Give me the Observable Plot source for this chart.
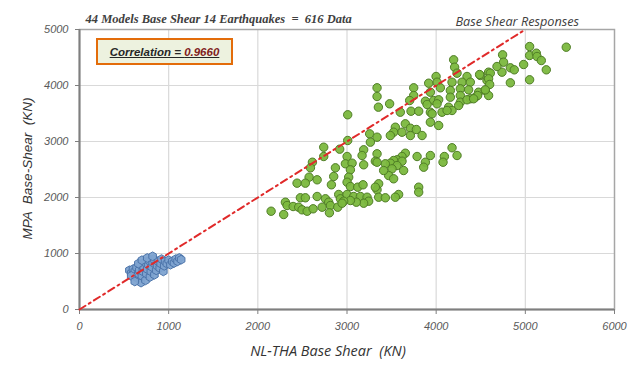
<!DOCTYPE html>
<html>
<head>
<meta charset="utf-8">
<script src="https://cdn.jsdelivr.net/npm/d3@7"></script>
<script src="https://cdn.jsdelivr.net/npm/@observablehq/plot@0.6"></script>
<style>
  html, body { margin: 0; padding: 0; background: #fff; }
  #wrap { position: relative; width: 629px; height: 370px; overflow: hidden; }
  #corr {
    position: absolute; left: 96px; top: 38px; width: 137px; height: 27px;
    box-sizing: border-box; border: 2px solid #e36c0a; background: #edf2df;
    font: italic bold 11.5px "Liberation Sans", Arial, sans-serif;
    text-decoration: underline; color: #262626;
    display: flex; align-items: center; justify-content: center;
  }
  #corr .v { color: #7f2020; }
</style>
</head>
<body>
<div id="wrap"></div>
<script>
// ---- data ----
const titleText = "44 Models Base Shear 14 Earthquakes  =  616 Data";
const subtitleText = "Base Shear Responses";
const correlationLabel = "Correlation = ";
const correlationValue = "0.9660";
const xLabel = "NL-THA Base Shear  (KN)";
const yLabel = "MPA  Base-Shear  (KN)";
const xTicks = [0, 1000, 2000, 3000, 4000, 5000, 6000];
const yTicks = [0, 1000, 2000, 3000, 4000, 5000];
const gridXTicks = [1000, 2000, 3000, 4000, 5000];
const gridYTicks = [1000, 2000, 3000, 4000];
const diagonal = [[0, 0], [5000, 5000]];

// NL-THA (x) vs MPA (y) base shear, green points
const greenPoints = [
  [3337,3959],[3337,3804],[3352,3613],[3008,3477],[3254,3137],[3337,3077],[3008,3018],[3262,2988],
  [2739,2898],[2918,2863],[2739,2732],[3187,2852],[3169,2750],[3001,2732],[3337,2780],[2612,2630],
  [2590,2530],[2982,2602],[3057,2613],[3187,2584],[3038,2495],[2870,2530],[3318,2648],[2851,2375],
  [3019,2363],[2575,2363],[2665,2316],[2440,2256],[2533,2256],[2825,2227],[3001,2273],[3038,2196],
  [3120,2184],[3180,2227],[3355,2245],[3337,2138],[2477,1995],[2533,1995],[2665,2018],[2758,1977],
  [2795,1916],[2907,2054],[2926,1977],[3001,2054],[3075,2018],[3150,2018],[3225,2005],[3243,1934],
  [3187,1898],[3105,1916],[3038,1946],[2963,1934],[2309,1916],[2328,1857],[2396,1839],[2458,1827],
  [2496,1780],[2553,1755],[2620,1798],[2721,1827],[2814,1857],[2896,1827],[2945,1898],[2803,1727],
  [2149,1755],[2290,1696],[3355,2005],
  [4196,4459],[4207,4327],[4234,4220],[3999,4161],[4346,4161],[4495,4179],[4588,4238],[4010,4059],
  [3916,4041],[4178,4059],[4290,4059],[4383,4059],[4570,4089],[3748,3959],[4047,3959],[3935,3880],
  [4159,3911],[4271,3941],[4364,3923],[4476,3880],[4551,3911],[3748,3821],[4159,3791],[4271,3821],
  [4383,3763],[4439,3791],[4588,3821],[3703,3732],[3879,3720],[3972,3732],[4028,3745],[4271,3702],
  [4346,3745],[3478,3673],[3898,3661],[4010,3673],[3598,3523],[3718,3541],[3804,3541],[3935,3523],
  [4066,3523],[4140,3613],[4178,3554],[4252,3643],[4122,3554],[3954,3495],[3935,3345],[4028,3286],
  [3654,3316],[3542,3255],[3523,3166],[3711,3237],[3778,3214],[3617,3166],[3711,3107],[3842,3107],
  [3486,3107],[4178,2888],[4234,2750],[3935,2750],[4092,2732],[3786,2732],[4077,2630],[3879,2630],
  [3860,2541],[3654,2791],[3617,2732],[3561,2673],[3617,2648],[3523,2661],[3486,2613],[3430,2602],
  [3337,2630],[3561,2571],[3635,2482],[3505,2512],[3467,2393],[3523,2334],[3411,2482],[3318,2184],
  [3804,2184],[3804,2095],[3579,2054],[3542,2005],[3430,1995],
  [5459,4684],[5048,4696],[5048,4536],[5123,4577],[5131,4518],[5179,4446],[5235,4280],[4981,4375],
  [5048,4102],[4832,4316],[4876,4280],[4832,4048],[4745,4548],[4756,4416],[4738,4238],[4682,4339],
  [4607,4220],[4588,4120],[4600,4018],[4487,4196],[4551,3923],[4465,3821],[4420,3763]
];

// blue points (small models)
const bluePoints = [
  [560,700],[580,650],[600,720],[610,600],[620,680],[640,750],[650,560],[660,640],[670,700],[680,800],
  [690,480],[700,600],[710,680],[720,760],[730,840],[740,520],[750,640],[760,720],[770,800],[780,870],
  [790,580],[800,680],[810,760],[820,840],[830,900],[840,620],[860,700],[870,780],[880,860],[900,740],
  [910,820],[920,900],[940,680],[950,780],[960,860],[980,820],[1000,880],[1020,800],[1040,860],[1060,830],
  [1080,900],[1100,860],[1120,920],[1140,890],[580,600],[620,500],[660,820],[700,880],[760,920],[820,950]
];

const italicSans = "'Liberation Sans', Arial, sans-serif";

const chart = Plot.plot({
  width: 629,
  height: 370,
  marginLeft: 79,
  marginRight: 15,
  marginTop: 29,
  marginBottom: 61,
  style: { background: "#fff", fontFamily: italicSans, fontStyle: "italic", fontSize: "11px", color: "#595959" },
  x: { domain: [0, 6000], axis: null },
  y: { domain: [0, 5000], axis: null },
  marks: [
    Plot.gridX(gridXTicks, { stroke: "#d9d9d9", strokeOpacity: 1, strokeWidth: 1.2 }),
    Plot.gridY(gridYTicks, { stroke: "#d9d9d9", strokeOpacity: 1, strokeWidth: 1.2 }),
    Plot.frame({ stroke: "#a6a6a6", strokeWidth: 1.5 }),
    Plot.axisX(xTicks, { tickSize: 5, tickPadding: 8, stroke: "#7f7f7f", fill: "#595959", label: null, tickFormat: d => String(d) }),
    Plot.axisY(yTicks, { tickSize: 4, tickPadding: 7, stroke: "#7f7f7f", fill: "#595959", label: null, tickFormat: d => String(d) }),
    Plot.ruleX([0], { stroke: "#7f7f7f", strokeWidth: 2 }),
    Plot.ruleY([0], { stroke: "#7f7f7f", strokeWidth: 2 }),
    Plot.dot(bluePoints, { x: d => d[0], y: d => d[1], symbol: "hexagon", r: 3.8, fill: "#7ea3d0", stroke: "#4c74aa", strokeWidth: 1, fillOpacity: 0.95 }),
    Plot.dot(greenPoints, { x: d => d[0], y: d => d[1], r: 4.2, fill: "#7bb83e", stroke: "#4f7d26", strokeWidth: 1, fillOpacity: 0.95 }),
    Plot.line(diagonal, { x: d => d[0], y: d => d[1], stroke: "#e02a2a", strokeWidth: 2, strokeDasharray: "7,4,2,4" }),
    Plot.text([titleText], { frameAnchor: "top-left", textAnchor: "start", dx: 6, dy: -15, fill: "#404040", fontSize: 12.5, fontWeight: "bold", fontFamily: "'Liberation Serif', 'DejaVu Serif', serif", fontStyle: "italic" }),
    Plot.text([subtitleText], { frameAnchor: "top-left", textAnchor: "start", dx: 376, dy: -13, fill: "#404040", fontSize: 12.7, fontFamily: "'Open Sans', sans-serif", fontStyle: "italic" }),
    Plot.text([xLabel], { frameAnchor: "bottom", dx: -19, dy: 46, fill: "#333333", fontSize: 14.5, fontFamily: "'Open Sans', sans-serif", fontStyle: "italic" }),
    Plot.text([yLabel], { frameAnchor: "left", textAnchor: "middle", rotate: -90, dx: -52, dy: -1, fill: "#333333", fontSize: 13.5, fontFamily: italicSans, fontStyle: "italic" })
  ]
});

const wrap = document.getElementById("wrap");
wrap.appendChild(chart);
const box = document.createElement("div");
box.id = "corr";
box.innerHTML = correlationLabel.replace(/ /g, "&nbsp;") + '<span class="v">' + correlationValue + "</span>";
wrap.appendChild(box);
</script>
</body>
</html>
